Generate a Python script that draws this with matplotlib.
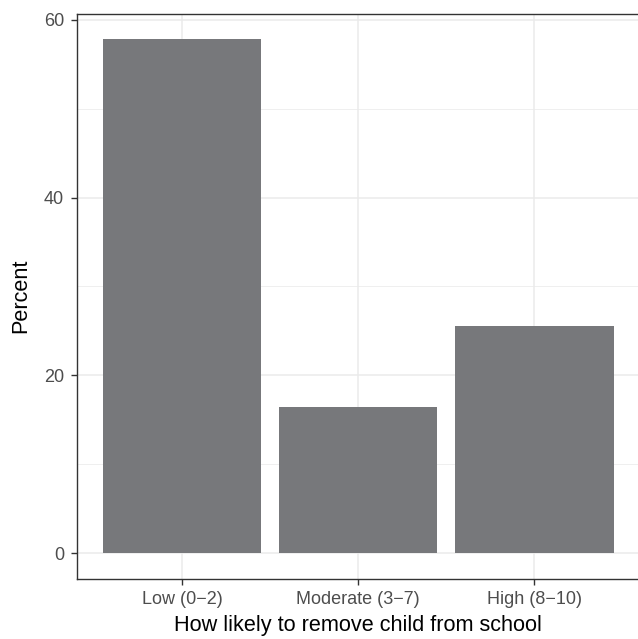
import matplotlib
matplotlib.use("Agg")
import matplotlib.pyplot as plt
from matplotlib.ticker import MultipleLocator

categories = ["Low (0\u22122)", "Moderate (3\u22127)", "High (8\u221210)"]
percent = [57.8, 16.5, 25.5]
y_ticks = [0, 20, 40, 60]

plt.rcParams['font.family'] = ['Liberation Sans', 'DejaVu Sans']

W, H = 638, 639
fig = plt.figure(figsize=(W / 100, H / 100), dpi=100)
left, right, top, bottom = 76.5, 640.0, 13.5, 579.0
ax = fig.add_axes([left / W, 1 - bottom / H, (right - left) / W, (bottom - top) / H])

x = list(range(1, len(categories) + 1))
ax.bar(x, percent, width=0.9, color='#77787B', zorder=3)

ymax = max(percent)
ax.set_ylim(-0.05 * ymax, ymax * 1.05)
ax.set_xlim(0.4, len(categories) + 0.6)
ax.set_xticks(x)
ax.set_xticklabels(categories)
ax.set_yticks(y_ticks)
ax.yaxis.set_minor_locator(MultipleLocator(10))

ax.grid(True, which='major', color='#EBEBEB', linewidth=1.1, zorder=0)
ax.grid(True, which='minor', axis='y', color='#EBEBEB', linewidth=0.55, zorder=0)
ax.set_axisbelow(True)

for s in ax.spines.values():
    s.set_color('#333333')
    s.set_linewidth(1.0)

ax.tick_params(axis='both', which='major', length=4, width=1, color='#333333',
               labelcolor='#4D4D4D', labelsize=13, pad=5)
ax.tick_params(axis='y', which='minor', length=0)

ax.set_xlabel("How likely to remove child from school", fontsize=15.6, color='black', labelpad=5)
ax.set_ylabel("Percent", fontsize=15.6, color='black', labelpad=9)

fig.savefig("out.png", dpi=100)
